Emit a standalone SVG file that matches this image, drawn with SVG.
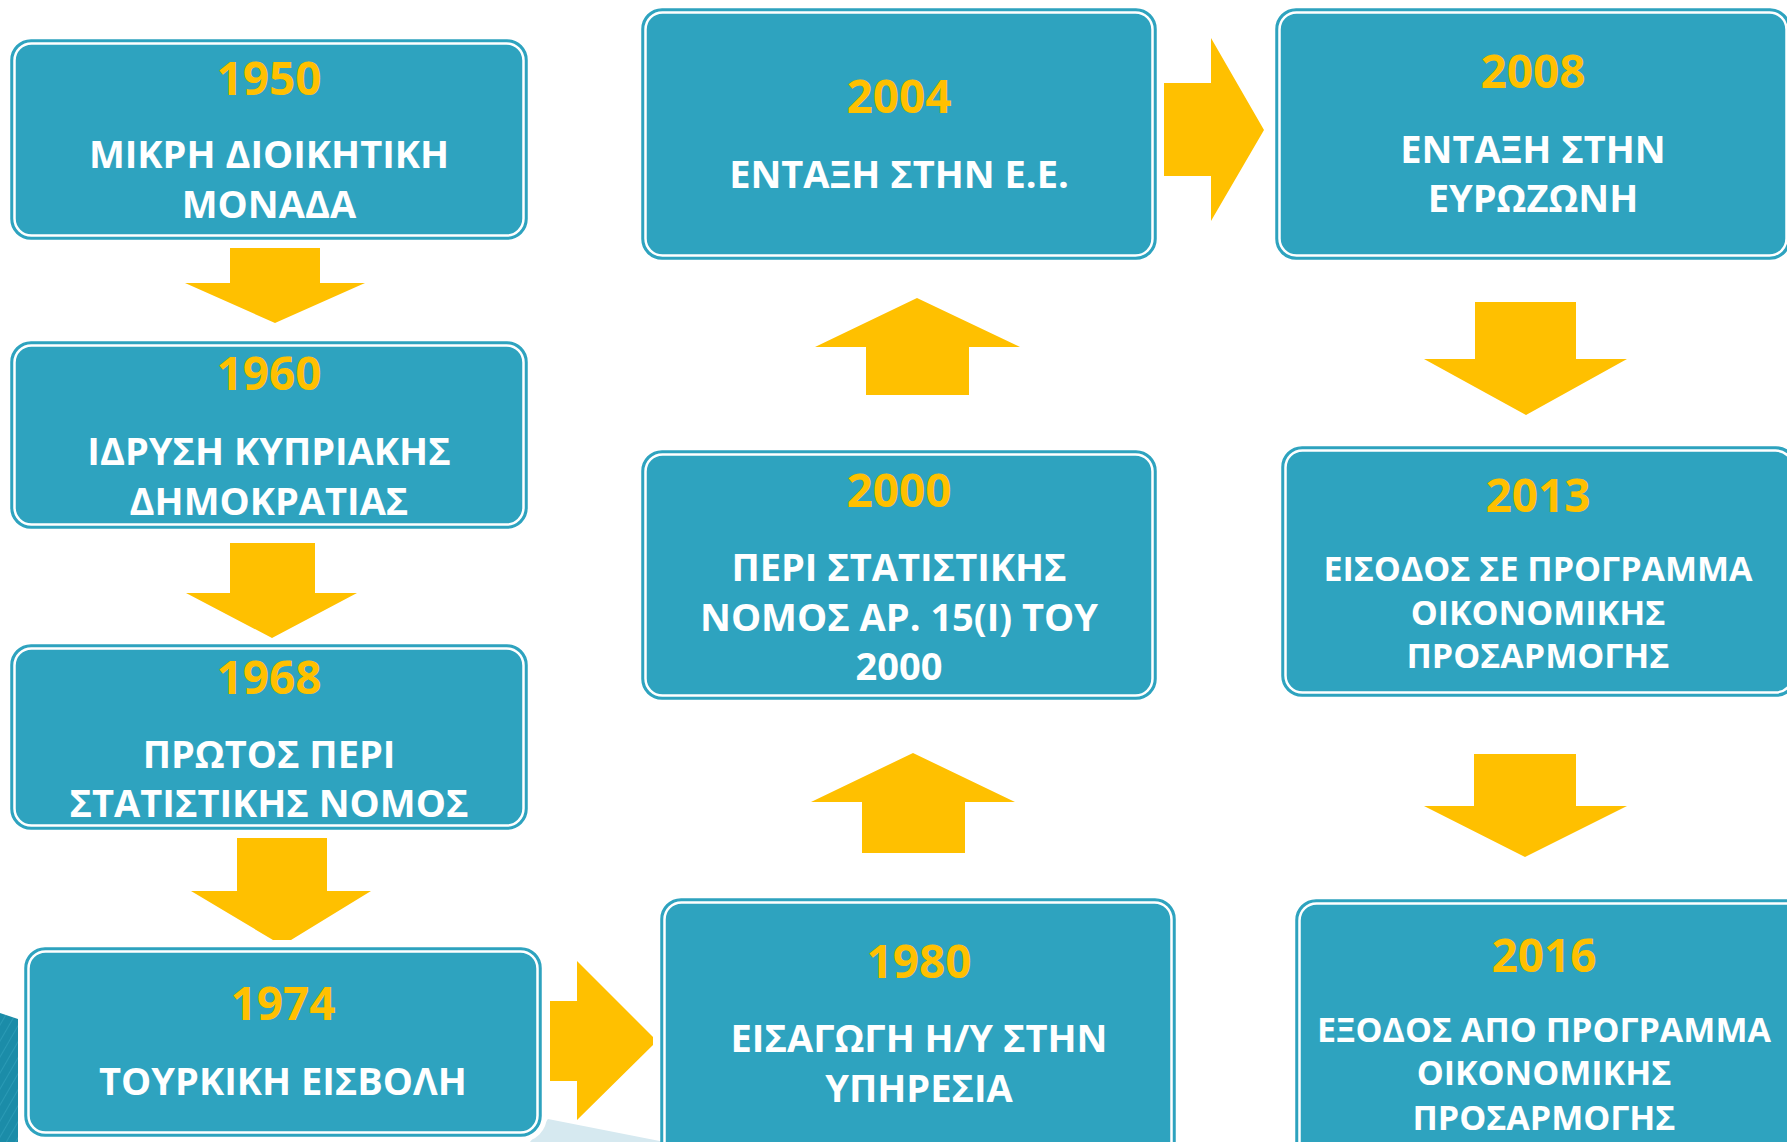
<svg xmlns="http://www.w3.org/2000/svg" width="1787" height="1142" viewBox="0 0 1787 1142">
<style>
.box{fill:#2EA3BF;stroke:#2EA3BF;stroke-width:1.5}
.inner{fill:none;stroke:#FFFFFF;stroke-width:2.5}
.yr{font-family:"Open Sans","Noto Sans",sans-serif;font-weight:700;font-size:46px;fill:#FFC000;text-anchor:middle}
.t{font-family:"Open Sans","Noto Sans",sans-serif;font-weight:700;font-size:38px;fill:#FFFFFF;text-anchor:middle}
.s{font-size:34px}
.arr{fill:#FFC000}
</style>
<defs>
<pattern id="stripes" width="8" height="8" patternUnits="userSpaceOnUse" patternTransform="rotate(30)">
<rect width="8" height="8" fill="#1B8CA8"/>
<line x1="0" y1="0" x2="0" y2="8" stroke="#2A9AB5" stroke-width="2"/>
</pattern>
</defs>
<rect width="1787" height="1142" fill="#FFFFFF"/>
<g id="background">
<polygon points="0,1013 18,1019 18,1142 0,1142" fill="url(#stripes)"/>
<polygon points="530,1142 548,1119 680,1145" fill="#D6E9F0"/>
</g>
<g id="connectors">
<polygon class="arr" points="230,248 320,248 320,283 365,283 275,323 185,283 230,283"/>
<polygon class="arr" points="230,543 315,543 315,593 357,593 272,638 186,593 230,593"/>
<polygon class="arr" points="237,838 327,838 327,891 371,891 291,940 273,940 191,891 237,891"/>
<polygon class="arr" points="550,1001 577,1001 577,961 653,1037 653,1045 577,1120 577,1081 550,1081"/>
<polygon class="arr" points="862,853 965,853 965,802 1015,802 913,753 811,802 862,802"/>
<polygon class="arr" points="866,395 969,395 969,347 1020,347 917,298 815,347 866,347"/>
<polygon class="arr" points="1164,83 1211,83 1211,38 1264,130 1211,221 1211,176 1164,176"/>
<polygon class="arr" points="1475,302 1576,302 1576,359 1627,359 1526,415 1424,359 1475,359"/>
<polygon class="arr" points="1474,754 1576,754 1576,806 1627,806 1525,857 1424,806 1474,806"/>
</g>
<g id="n1950">
<rect class="box" x="11" y="40" width="516" height="199" rx="20"/>
<rect class="inner" x="14.5" y="43.5" width="509" height="192" rx="17"/>
<text class="yr" x="269" y="95">1950</text>
<text class="t" x="269" y="168">ΜΙΚΡΗ ΔΙΟΙΚΗΤΙΚΗ</text>
<text class="t" x="269" y="218">ΜΟΝΑΔΑ</text>
</g>
<g id="n1960">
<rect class="box" x="11" y="342" width="516" height="186" rx="20"/>
<rect class="inner" x="14.5" y="345.5" width="509" height="179" rx="17"/>
<text class="yr" x="269" y="390">1960</text>
<text class="t" x="269" y="465">ΙΔΡΥΣΗ ΚΥΠΡΙΑΚΗΣ</text>
<text class="t" x="269" y="515">ΔΗΜΟΚΡΑΤΙΑΣ</text>
</g>
<g id="n1968">
<rect class="box" x="11" y="645" width="516" height="184" rx="20"/>
<rect class="inner" x="14.5" y="648.5" width="509" height="177" rx="17"/>
<text class="yr" x="269" y="694">1968</text>
<text class="t" x="269" y="768">ΠΡΩΤΟΣ ΠΕΡΙ</text>
<text class="t" x="269" y="817">ΣΤΑΤΙΣΤΙΚΗΣ ΝΟΜΟΣ</text>
</g>
<g id="n1974">
<rect x="19" y="942" width="528" height="200" rx="26" fill="#FFFFFF"/>
<rect class="box" x="25" y="948" width="516" height="188" rx="20"/>
<rect class="inner" x="28.5" y="951.5" width="509" height="181" rx="17"/>
<text class="yr" x="283" y="1020">1974</text>
<text class="t" x="283" y="1095">ΤΟΥΡΚΙΚΗ ΕΙΣΒΟΛΗ</text>
</g>
<g id="n1980">
<rect class="box" x="661" y="899" width="514" height="270" rx="20"/>
<rect class="inner" x="664.5" y="902.5" width="507" height="263" rx="17"/>
<text class="yr" x="919" y="978">1980</text>
<text class="t" x="919" y="1052">ΕΙΣΑΓΩΓΗ Η/Υ ΣΤΗΝ</text>
<text class="t" x="919" y="1102">ΥΠΗΡΕΣΙΑ</text>
</g>
<g id="n2000">
<rect class="box" x="642" y="451" width="514" height="248" rx="20"/>
<rect class="inner" x="645.5" y="454.5" width="507" height="241" rx="17"/>
<text class="yr" x="899" y="507">2000</text>
<text class="t" x="899" y="581">ΠΕΡΙ ΣΤΑΤΙΣΤΙΚΗΣ</text>
<text class="t" x="899" y="631">ΝΟΜΟΣ ΑΡ. 15(Ι) ΤΟΥ</text>
<text class="t" x="899" y="680">2000</text>
</g>
<g id="n2004">
<rect class="box" x="642" y="9" width="514" height="250" rx="20"/>
<rect class="inner" x="645.5" y="12.5" width="507" height="243" rx="17"/>
<text class="yr" x="899" y="113">2004</text>
<text class="t" x="899" y="188">ΕΝΤΑΞΗ ΣΤΗΝ Ε.Ε.</text>
</g>
<g id="n2008">
<rect class="box" x="1276" y="9" width="514" height="250" rx="20"/>
<rect class="inner" x="1279.5" y="12.5" width="507" height="243" rx="17"/>
<text class="yr" x="1533" y="88">2008</text>
<text class="t" x="1533" y="163">ΕΝΤΑΞΗ ΣΤΗΝ</text>
<text class="t" x="1533" y="212">ΕΥΡΩΖΩΝΗ</text>
</g>
<g id="n2013">
<rect class="box" x="1282" y="447" width="514" height="249" rx="20"/>
<rect class="inner" x="1285.5" y="450.5" width="507" height="242" rx="17"/>
<text class="yr" x="1538" y="512">2013</text>
<text class="t s" x="1538" y="581">ΕΙΣΟΔΟΣ ΣΕ ΠΡΟΓΡΑΜΜΑ</text>
<text class="t s" x="1538" y="625">ΟΙΚΟΝΟΜΙΚΗΣ</text>
<text class="t s" x="1538" y="668">ΠΡΟΣΑΡΜΟΓΗΣ</text>
</g>
<g id="n2016">
<rect class="box" x="1296" y="900" width="514" height="270" rx="20"/>
<rect class="inner" x="1299.5" y="903.5" width="507" height="263" rx="17"/>
<text class="yr" x="1544" y="972">2016</text>
<text class="t s" x="1544" y="1042">ΕΞΟΔΟΣ ΑΠΟ ΠΡΟΓΡΑΜΜΑ</text>
<text class="t s" x="1544" y="1085">ΟΙΚΟΝΟΜΙΚΗΣ</text>
<text class="t s" x="1544" y="1130">ΠΡΟΣΑΡΜΟΓΗΣ</text>
</g>
</svg>
